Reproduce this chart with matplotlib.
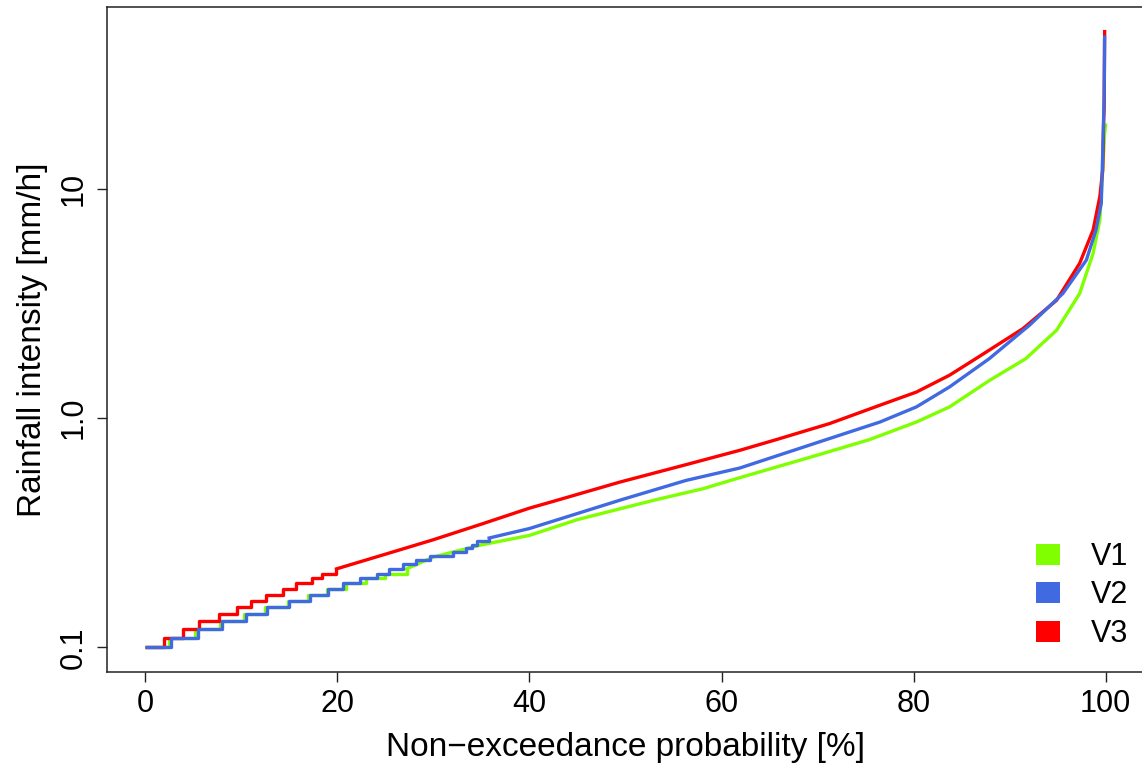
import numpy as np
import matplotlib.pyplot as plt
from matplotlib.patches import Patch

plt.rcParams['font.family'] = ['Liberation Sans', 'DejaVu Sans']

# valori: parte a gradini (risoluzione 0.01 mm/h) + parte continua
v1_step_pct = [0, 2.5, 5.2, 7.8, 10.3, 12.5, 14.8, 16.9, 18.9, 20.9, 23.0, 25.0, 27.2]
v1_step_val = [0.10, 0.11, 0.12, 0.13, 0.14, 0.15, 0.16, 0.17, 0.18, 0.19, 0.20, 0.21, 0.22]
v1_pct = [27.2, 30, 35, 40, 45, 50, 53.2, 58.05, 61.9, 70, 75.4, 80.3, 83.75, 87.9, 91.7,
          94.9, 97.3, 98.7, 99.4, 99.7, 99.9, 100]
v1_val = [0.22, 0.248, 0.28, 0.308, 0.361, 0.408, 0.441, 0.492, 0.550, 0.69, 0.806, 0.962,
          1.12, 1.46, 1.82, 2.42, 3.50, 5.24, 7.33, 12.1, 17.5, 19.0]

v2_step_pct = [0, 2.7, 5.5, 8.0, 10.5, 12.7, 15.0, 17.1, 19.0, 20.6, 22.3, 24.1, 25.4,
               26.8, 28.2, 29.6, 32.0, 33.4, 34.0, 34.5, 35.8]
v2_step_val = [0.10, 0.11, 0.12, 0.13, 0.14, 0.15, 0.16, 0.17, 0.18, 0.19, 0.20, 0.21,
               0.22, 0.23, 0.24, 0.25, 0.26, 0.27, 0.28, 0.29, 0.30]
v2_pct = [35.8, 40, 49.6, 56.3, 61.9, 70.9, 76.5, 80.3, 83.75, 87.9, 92.1, 95.55,
          98.0, 99.0, 99.55, 99.7, 99.85, 99.9]
v2_val = [0.30, 0.33, 0.441, 0.535, 0.606, 0.806, 0.962, 1.12, 1.369, 1.82, 2.55,
          3.50, 4.90, 6.63, 8.67, 14.3, 25.0, 46.0]

v3_step_pct = [0, 1.98, 3.96, 5.6, 7.7, 9.5, 11.0, 12.6, 14.3, 15.7, 17.3, 18.4, 19.9]
v3_step_val = [0.10, 0.11, 0.12, 0.13, 0.14, 0.15, 0.16, 0.17, 0.18, 0.19, 0.20, 0.21, 0.22]
v3_pct = [19.9, 25, 30, 35, 40, 42.6, 49.4, 56.0, 61.9, 65.7, 71.25, 76.5, 80.3, 83.75,
          86.5, 91.4, 94.9, 97.3, 98.7, 99.4, 99.7, 99.8, 99.85, 99.9]
v3_val = [0.22, 0.255, 0.295, 0.345, 0.405, 0.435, 0.526, 0.622, 0.724, 0.806, 0.947,
          1.139, 1.30, 1.54, 1.82, 2.46, 3.27, 4.74, 6.62, 9.27, 12.1, 20.1, 22.5, 48.6]

nomi = ['V1', 'V2', 'V3']
colori = ['#7FFF00', '#4169E1', '#FF0000']

y_ticks = [0.1, 1.0, 10]
y_tick_labels = ['0.1', '1.0', '10']
x_ticks = [0, 20, 40, 60, 80, 100]

fig = plt.figure(figsize=(11.42, 7.69), dpi=100)
ax = fig.add_axes([107/1142, 97/769, 1037/1142, 665/769])

serie = [(v1_step_pct, v1_step_val, v1_pct, v1_val),
         (v3_step_pct, v3_step_val, v3_pct, v3_val),
         (v2_step_pct, v2_step_val, v2_pct, v2_val)]
col_ordine = [colori[0], colori[2], colori[1]]
for (sp, sv, p, v), c in zip(serie, col_ordine):
    ax.plot(sp, sv, drawstyle='steps-post', color=c, lw=2.4, solid_capstyle='butt')
    ax.plot(p, v, color=c, lw=2.4, solid_joinstyle='round')

ax.set_yscale('log')
ax.set_xlim(-4, 104)
ax.set_ylim(10**-1.1075, 10**1.794)
ax.set_yticks(y_ticks)
ax.set_yticklabels(y_tick_labels, rotation=90, va='center')
ax.minorticks_off()
ax.set_xticks(x_ticks)

for s in ['left', 'top', 'bottom']:
    ax.spines[s].set_linewidth(1.1)
    ax.spines[s].set_color('#222222')
ax.spines['right'].set_visible(False)
ax.tick_params(axis='both', length=7.2, width=1.0, color='#222222', labelsize=22)
ax.tick_params(axis='x', pad=5)
ax.tick_params(axis='y', pad=6)

ax.set_xlabel('Non\u2212exceedance probability [%]', fontsize=24)
ax.set_ylabel('Rainfall intensity [mm/h]', fontsize=24)
ax.xaxis.set_label_coords(0.5, -0.090)
ax.yaxis.set_label_coords(-0.057, 0.5)

handles = [Patch(facecolor=c, edgecolor='none') for c in colori]
ax.legend(handles, nomi, loc='lower left', bbox_to_anchor=(1036/1142, 120/769),
          bbox_transform=fig.transFigure, frameon=False, fontsize=22,
          handlelength=0.8, handleheight=0.7, handletextpad=1.0,
          labelspacing=0.28, borderpad=0, borderaxespad=0)

fig.savefig('out.png', dpi=100)
